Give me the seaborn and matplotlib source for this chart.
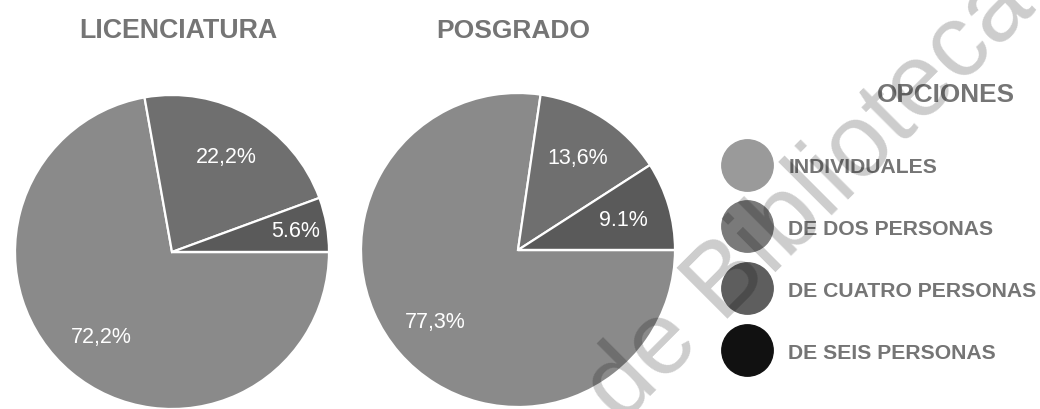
import numpy as np
import matplotlib
matplotlib.use("Agg")
import matplotlib.pyplot as plt
from matplotlib.lines import Line2D
import seaborn as sns

# === Data ===
categorias = ["INDIVIDUALES", "DE DOS PERSONAS", "DE CUATRO PERSONAS", "DE SEIS PERSONAS"]
licenciatura = [72.2, 22.2, 5.6, 0.0]
posgrado = [77.3, 13.6, 9.1, 0.0]
etiquetas_lic = ["72,2%", "22,2%", "5.6%", ""]
etiquetas_pos = ["77,3%", "13,6%", "9.1%", ""]

colores_pie = ["#8a8a8a", "#6f6f6f", "#5a5a5a", "#111111"]
colores_leyenda = ["#9a9a9a", "#7a7a7a", "#5e5e5e", "#111111"]
gris_texto = "#757575"

sns.set_theme(style="white")
plt.rcParams["font.family"] = ["Liberation Sans", "DejaVu Sans"]

fig = plt.figure(figsize=(10.4, 4.1), dpi=100)
ax1 = fig.add_axes([15 / 1040, 0, 314 / 1040, 314 / 410])
ax2 = fig.add_axes([361 / 1040, 2 / 410, 314 / 1040, 314 / 410])


def dibujar_pie(ax, valores, etiquetas, dist_pequena):
    wedges, _ = ax.pie(valores, colors=colores_pie, startangle=0, counterclock=False,
                       radius=1, wedgeprops=dict(edgecolor="white", linewidth=1.6))
    for w, txt, v in zip(wedges, etiquetas, valores):
        if not txt:
            continue
        ang = np.deg2rad((w.theta1 + w.theta2) / 2)
        r = dist_pequena if v < 8 else 0.7
        ax.text(r * np.cos(ang), r * np.sin(ang), txt, color="white",
                fontsize=15.5, ha="center", va="center")
    ax.set_xlim(-1, 1)
    ax.set_ylim(-1, 1)
    ax.set_aspect("equal")
    ax.axis("off")


dibujar_pie(ax1, licenciatura, etiquetas_lic, 0.8)
dibujar_pie(ax2, posgrado, etiquetas_pos, 0.72)

# ============ Titles ============
fig.text(178 / 1040, 1 - 31 / 410, "LICENCIATURA", fontsize=19.3, fontweight="bold",
         color=gris_texto, ha="center", va="center")
fig.text(513 / 1040, 1 - 31 / 410, "POSGRADO", fontsize=19, fontweight="bold",
         color=gris_texto, ha="center", va="center")
fig.text(946 / 1040, 1 - 95 / 410, "OPCIONES", fontsize=18.8, fontweight="bold",
         color=gris_texto, ha="center", va="center")

# ============ Legend ============
handles = [Line2D([0], [0], marker="o", linestyle="", markersize=37,
                  markerfacecolor=c, markeredgecolor=c) for c in colores_leyenda]
leg = fig.legend(handles, categorias, loc="upper left",
                 bbox_to_anchor=(736.5 / 1040, 1 - 158 / 410), frameon=False,
                 handlelength=1.0, handletextpad=1.45, labelspacing=2.03,
                 borderpad=0, borderaxespad=0,
                 prop=dict(size=15.2, weight="bold"))
for t in leg.get_texts():
    t.set_color(gris_texto)

# ============ Watermark ============
fig.text(810 / 1040, 1 - 198 / 410, "de Biblioteca", rotation=45, rotation_mode="anchor",
         fontsize=74, family=["Liberation Sans", "DejaVu Sans"],
         color="black", alpha=0.2, ha="center", va="center", zorder=10)

fig.savefig("out.png", dpi=100)
